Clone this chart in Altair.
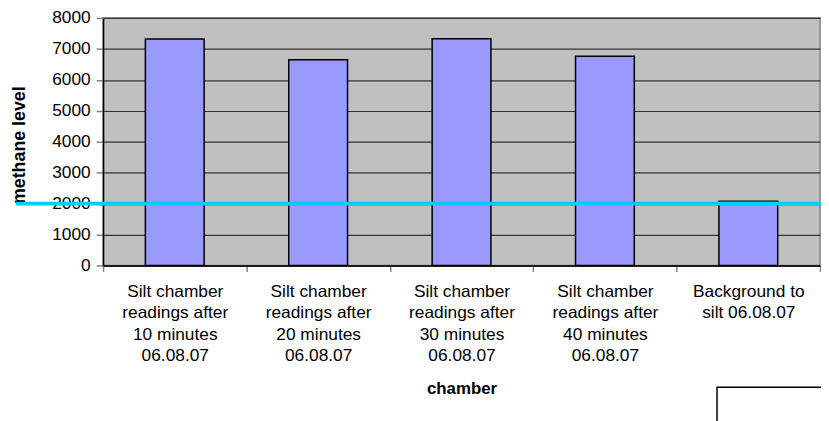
import altair as alt
import pandas as pd

categories = [
    "Silt chamber|readings after|10 minutes|06.08.07",
    "Silt chamber|readings after|20 minutes|06.08.07",
    "Silt chamber|readings after|30 minutes|06.08.07",
    "Silt chamber|readings after|40 minutes|06.08.07",
    "Background to|silt 06.08.07",
]
methane = [7320, 6650, 7330, 6760, 2080]
reference_level = [2000]
y_ticks = [0, 1000, 2000, 3000, 4000, 5000, 6000, 7000, 8000]

df = pd.DataFrame({"chamber": categories, "methane": methane})
ref = pd.DataFrame({"methane": reference_level})

FONT = "Liberation Sans"

y_axis = alt.Axis(
    title="methane level",
    titleFont=FONT,
    titleFontSize=18,
    titleFontWeight="bold",
    titleX=-84,
    titleY=128,
    titleAlign="center",
    titleBaseline="middle",
    values=y_ticks,
    tickCount=9,
    format="d",
    labelFont=FONT,
    labelFontSize=17.5,
    labelColor="black",
    labelPadding=6,
    labelOverlap=False,
    tickSize=7,
    tickColor="#808080",
    tickWidth=1.5,
    domainColor="black",
    domainWidth=1.5,
    grid=True,
    gridColor="#333333",
    gridWidth=1.2,
)
y_scale = alt.Scale(domain=[0, 8000], nice=False)

bars = alt.Chart(df).mark_bar(
    color="#9999FF", stroke="black", strokeWidth=1.5,
    width=alt.RelativeBandSize(0.41),
).encode(
    x=alt.X(
        "chamber:N",
        sort=None,
        scale=alt.Scale(paddingInner=0, paddingOuter=0),
        axis=alt.Axis(
            title="chamber",
            titleFont=FONT,
            titleFontSize=17,
            titleFontWeight="bold",
            titleY=124,
            titleBaseline="middle",
            labelExpr="split(datum.label, '|')",
            labelFont=FONT,
            labelFontSize=17.5,
            labelLineHeight=21.7,
            labelPadding=11,
            labelAngle=0,
            labelColor="black",
            labelOverlap=False,
            tickBand="extent",
            tickSize=6,
            tickColor="#808080",
            tickWidth=1.5,
            domainColor="black",
            domainWidth=1.5,
            grid=False,
        ),
    ),
    y=alt.Y("methane:Q", scale=y_scale, axis=y_axis),
)

rule = alt.Chart(ref).mark_rule(color="#00CCFF", strokeWidth=4, clip=False).encode(
    y=alt.Y("methane:Q", scale=y_scale, axis=y_axis),
    x=alt.value(-88),
    x2=alt.value(726),
)

box = alt.Chart(ref).mark_rect(
    fill="white", stroke="black", strokeWidth=1.5, clip=False
).encode(
    x=alt.value(620),
    x2=alt.value(730),
    y=alt.value(373),
    y2=alt.value(420),
)

chart = alt.layer(bars, rule, box).properties(
    width=724,
    height=250,
    autosize=alt.AutoSizeParams(type="none"),
    padding={"left": 96, "top": 8, "right": 1, "bottom": 155},
    background="white",
).configure_view(
    fill="#C0C0C0", stroke="#808080", strokeWidth=1.5
)

chart.save("out.html", embed_options={"renderer": "svg", "actions": False})
